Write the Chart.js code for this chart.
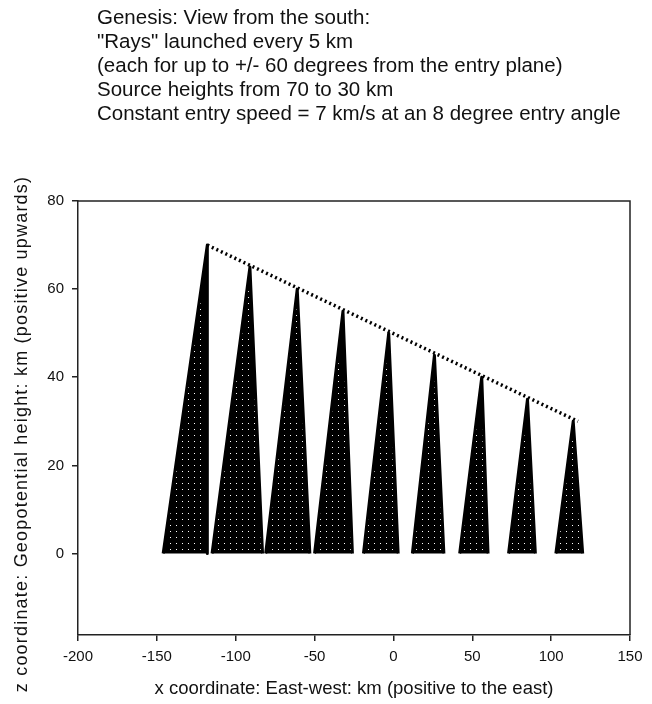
<!DOCTYPE html>
<html>
<head>
<meta charset="utf-8">
<script src="https://cdn.jsdelivr.net/npm/chart.js@4.4.0/dist/chart.umd.min.js"></script>
<style>
  body { margin: 0; background: #fff; }
  #wrap { position: relative; width: 652px; height: 704px; }
  #notes {
    position: absolute; left: 97px; top: 5px;
    font: 20.5px "Liberation Sans", Arial, sans-serif; line-height: 24px;
    color: #111; white-space: pre;
  }
  canvas { position: absolute; left: 0; top: 0; }
</style>
</head>
<body>
<div id="wrap">
  <canvas id="rays" width="652" height="704"></canvas>
  <div id="notes">Genesis: View from the south:
"Rays" launched every 5 km
(each for up to +/- 60 degrees from the entry plane)
Source heights from 70 to 30 km
Constant entry speed = 7 km/s at an 8 degree entry angle</div>
</div>
<script>
// source points along the entry track (km)
const sourceX = [-118, -91, -61, -32, -3, 26, 56, 85, 114];
const sourceZ = [70, 65, 60, 55, 50, 45, 40, 35, 30];
// where each ray fan reaches the ground (km)
const groundWest = [-146, -115, -81, -50, -19, 12, 42, 73, 103];
const groundEast = [-118, -83, -53, -26, 3, 32, 60, 90, 120];
// entry track
const trackX = [-118, 117];
const trackZ = [70, 30];

const xTicks = [-200, -150, -100, -50, 0, 50, 100, 150];
const zTicks = [0, 20, 40, 60, 80];

const ctx = document.getElementById('rays').getContext('2d');

// dense ray points -> black with small white gaps
function speckle() {
  const c = document.createElement('canvas');
  c.width = 6; c.height = 6;
  const g = c.getContext('2d');
  g.fillStyle = '#000';
  g.fillRect(0, 0, 6, 6);
  g.fillStyle = '#fff';
  g.fillRect(2, 3, 1, 1);
  return ctx.createPattern(c, 'repeat');
}
const fill = speckle();

const datasets = sourceX.map((x, i) => ({
  data: [
    { x: groundWest[i], y: 0 },
    { x: x, y: sourceZ[i] },
    { x: groundEast[i], y: 0 }
  ],
  borderColor: '#000',
  borderWidth: 3,
  borderJoinStyle: 'round',
  backgroundColor: fill,
  fill: 'origin',
  pointRadius: 0,
  tension: 0
}));

datasets.push({
  data: trackX.map((x, i) => ({ x: x, y: trackZ[i] })),
  borderColor: '#000',
  borderWidth: 3.5,
  borderDash: [2, 3],
  fill: false,
  pointRadius: 0
});

const frame = {
  id: 'frame',
  afterDraw(chart) {
    const a = chart.chartArea;
    const c = chart.ctx;
    c.save();
    c.strokeStyle = '#222';
    c.lineWidth = 1.5;
    c.beginPath();
    c.moveTo(a.left, a.top);
    c.lineTo(a.right, a.top);
    c.lineTo(a.right, a.bottom);
    c.stroke();
    c.translate(22, 434);
    c.rotate(-Math.PI / 2);
    c.fillStyle = '#111';
    c.font = '18px "Liberation Sans", Arial, sans-serif';
    c.letterSpacing = '1.2px';
    c.textAlign = 'center';
    c.textBaseline = 'middle';
    c.fillText('z coordinate: Geopotential height: km (positive upwards)', 0, 0);
    c.restore();
  }
};

new Chart(ctx, {
  type: 'line',
  data: { datasets: datasets },
  options: {
    responsive: false,
    animation: false,
    devicePixelRatio: 1,
    layout: { padding: { top: 201, right: 22, left: 0, bottom: 0 } },
    plugins: { legend: { display: false }, tooltip: { enabled: false } },
    scales: {
      x: {
        type: 'linear',
        min: -200,
        max: 150,
        afterBuildTicks: s => { s.ticks = xTicks.map(v => ({ value: v })); },
        afterFit: s => { s.height = 69; },
        ticks: { color: '#111', font: { size: 15, family: 'Liberation Sans' }, padding: 7, maxRotation: 0 },
        grid: { drawOnChartArea: false, tickLength: 6, color: '#222', lineWidth: 1.5 },
        border: { color: '#222', width: 1.5 },
        title: {
          display: true,
          text: 'x coordinate: East-west: km (positive to the east)',
          color: '#111',
          font: { size: 18.5, family: 'Liberation Sans' },
          padding: { top: 4, bottom: 4 }
        }
      },
      y: {
        type: 'linear',
        min: -18.5,
        max: 80,
        afterBuildTicks: s => { s.ticks = zTicks.map(v => ({ value: v })); },
        afterFit: s => { s.width = 78; },
        ticks: { color: '#111', font: { size: 15, family: 'Liberation Sans' }, padding: 8 },
        grid: { drawOnChartArea: false, tickLength: 6, color: '#222', lineWidth: 1.5 },
        border: { color: '#222', width: 1.5 }
      }
    }
  },
  plugins: [frame]
});
</script>
</body>
</html>
